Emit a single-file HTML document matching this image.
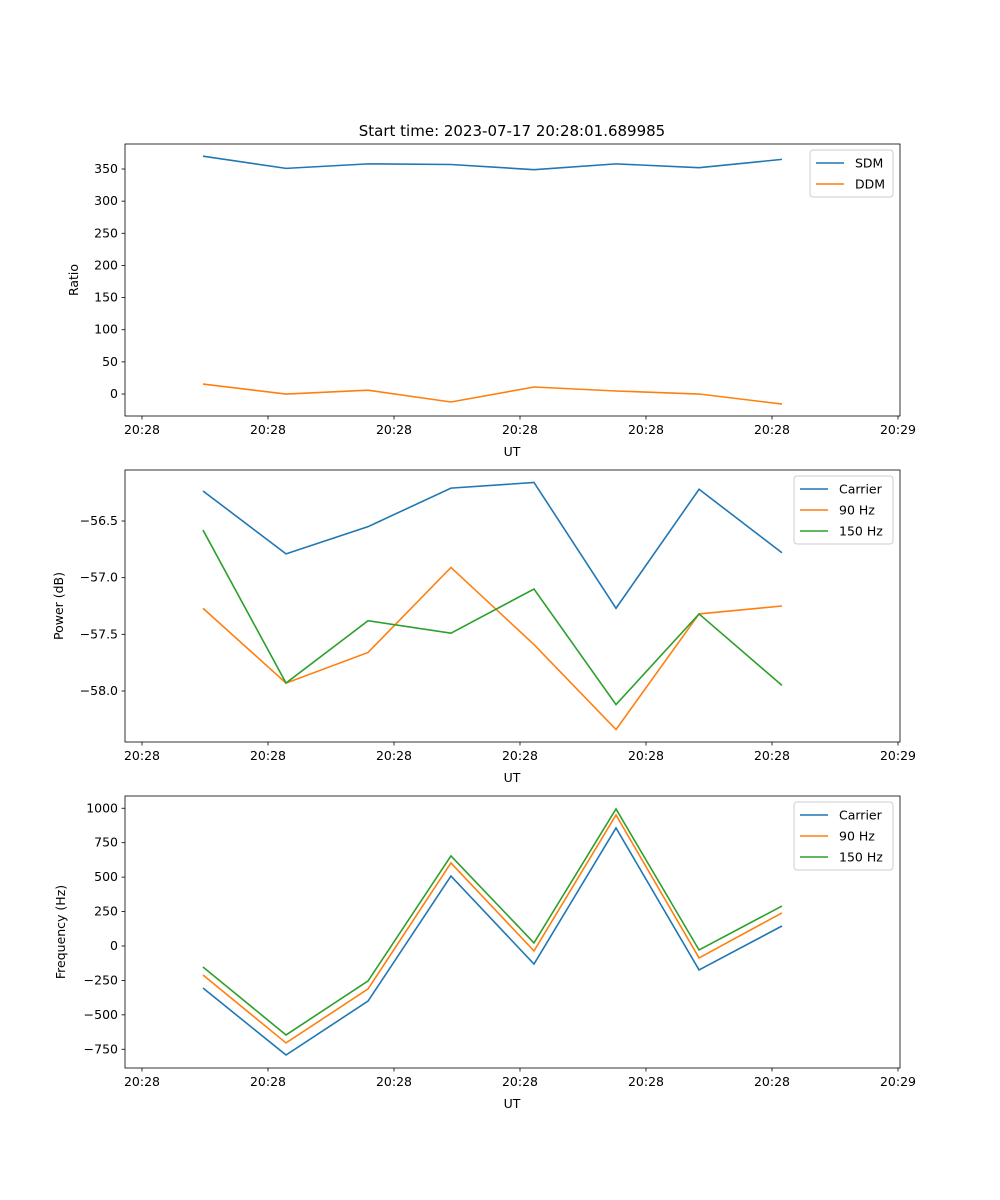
<!DOCTYPE html>
<html><head><meta charset="utf-8"><style>
body{margin:0;background:#fff}
svg{display:block;font-family:"DejaVu Sans","Liberation Sans",sans-serif}
</style></head><body>
<svg id="fig" width="1000" height="1200" viewBox="0 0 1000 1200"></svg>
<script>
const timesSec = [0.484, 1.143, 1.794, 2.452, 3.111, 3.762, 4.421, 5.079];
const xTickLabels = ["20:28","20:28","20:28","20:28","20:28","20:28","20:29"];
const sdm = [370, 351, 358, 357, 349, 358, 352, 365];
const ddm = [15.5, 0, 6, -12.4, 10.9, 4.7, 0, -15.6];
const powCarrier = [-56.235, -56.79, -56.55, -56.21, -56.16, -57.27, -56.22, -56.78];
const pow90 = [-57.27, -57.93, -57.66, -56.91, -57.59, -58.34, -57.32, -57.25];
const pow150 = [-56.58, -57.93, -57.38, -57.49, -57.10, -58.12, -57.32, -57.95];
const freqCarrier = [-305, -792, -400, 508, -131, 857, -174, 145];
const freq90 = [-211, -704, -312, 603, -36, 951, -87, 240];
const freq150 = [-153, -646, -254, 654, 22, 995, -29, 290];
const ratioTicks = [0,50,100,150,200,250,300,350];
const powTicks = [-58.0,-57.5,-57.0,-56.5];
const freqTicks = [-750,-500,-250,0,250,500,750,1000];

const NS="http://www.w3.org/2000/svg";
const svg=document.getElementById('fig');
function el(tag,attrs,parent){const e=document.createElementNS(NS,tag);for(const k in attrs)e.setAttribute(k,attrs[k]);(parent||svg).appendChild(e);return e;}
const L=125,R=900;
const xs=t=>142+t*126;
function panel(name,top,bot,ymin,ymax,yticks,fmt,ylabel,series,lx){
  const g=el('g',{});
  
  
  const ys=v=>bot-(v-ymin)/(ymax-ymin)*(bot-top);
  yticks.forEach(v=>{const y=ys(v);
    el('line',{x1:L-3.5,x2:L,y1:y,y2:y,stroke:'#000','stroke-width':0.8},g);
    const t=el('text',{x:L-7,y:y+4,'text-anchor':'end','font-size':12.5},g);t.textContent=fmt(v);
    });
  xTickLabels.forEach((s,i)=>{const x=xs(i);
    el('line',{x1:x,x2:x,y1:bot,y2:bot+3.5,stroke:'#000','stroke-width':0.8},g);
    const t=el('text',{x:x,y:bot+18,'text-anchor':'middle','font-size':12.5},g);t.textContent=s;
    });
  const xl=el('text',{x:512,y:bot+40,'text-anchor':'middle','font-size':12.5},g);xl.textContent='UT';
  
  const yl=el('text',{x:0,y:0,'text-anchor':'middle','font-size':12.5,transform:`translate(${L-ylabel[1]},${(top+bot)/2}) rotate(-90)`},g);yl.textContent=ylabel[0];
  
  series.forEach(s=>{const p=el('polyline',{points:s.d.map((v,i)=>xs(timesSec[i])+','+ys(v)).join(' '),fill:'none',stroke:s.c,'stroke-width':1.6},g);
    });
  el('rect',{x:L,y:top,width:R-L,height:bot-top,fill:'none',stroke:'#000','stroke-width':0.8},g);
  const lg=el('g',{},g);
  
  el('rect',{x:lx,y:top+6,width:R-7-lx,height:series.length*21+5,rx:3,fill:'#fff',stroke:'#ccc'},lg);
  series.forEach((s,i)=>{const y=top+19+i*21;
    el('line',{x1:lx+6,x2:lx+34,y1:y,y2:y,stroke:s.c,'stroke-width':1.6},lg);
    const t=el('text',{x:lx+45,y:y+4.5,'font-size':12.5},lg);t.textContent=s.n;
    });
}
const B='#1f77b4',O='#ff7f0e',G='#2ca02c';
const title=el('text',{x:512,y:136,'text-anchor':'middle','font-size':15});title.textContent='Start time: 2023-07-17 20:28:01.689985';

panel('ratio-panel',144,416,-34.2,388.9,ratioTicks,v=>String(v),['Ratio',47],[{n:'SDM',d:sdm,c:B},{n:'DDM',d:ddm,c:O}],810);
panel('power-panel',470,742,-58.45,-56.05,powTicks,v=>'\u2212'+Math.abs(v).toFixed(1),['Power (dB)',62],[{n:'Carrier',d:powCarrier,c:B},{n:'90 Hz',d:pow90,c:O},{n:'150 Hz',d:pow150,c:G}],794);
panel('frequency-panel',796,1068,-886,1089,freqTicks,v=>(v<0?'\u2212':'')+Math.abs(v),['Frequency (Hz)',60],[{n:'Carrier',d:freqCarrier,c:B},{n:'90 Hz',d:freq90,c:O},{n:'150 Hz',d:freq150,c:G}],794);
</script>
</body></html>
